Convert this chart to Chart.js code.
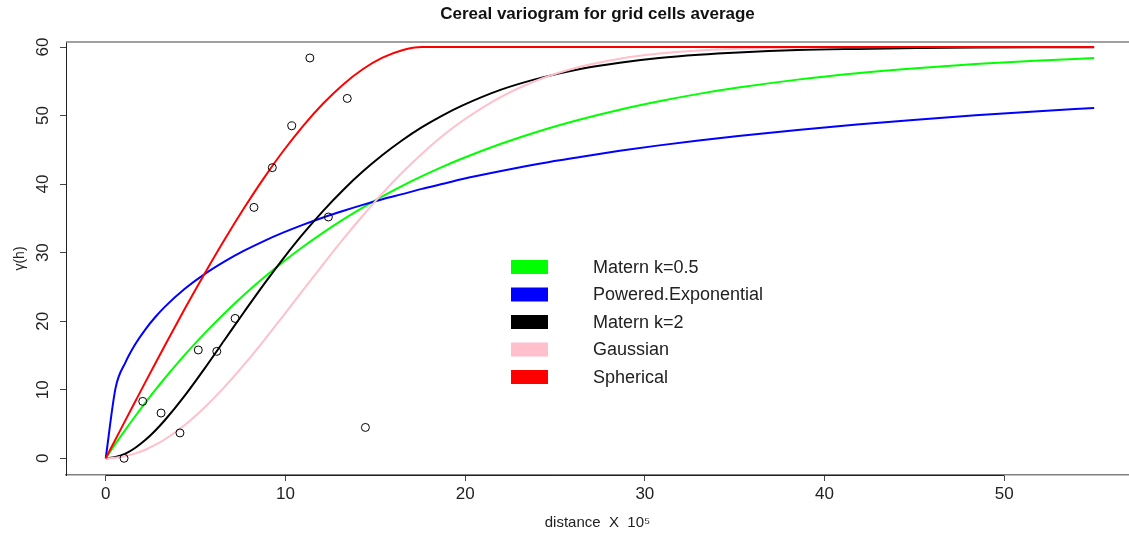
<!DOCTYPE html>
<html>
<head>
<meta charset="utf-8">
<title>Cereal variogram</title>
<script src="https://cdn.jsdelivr.net/npm/chart.js@4.4.1/dist/chart.umd.min.js"></script>
<style>
    html, body { margin: 0; padding: 0; background: #fff; }
    #chart { display: block; }
</style>
</head>
<body>
<canvas id="chart" width="1129" height="537"></canvas>
<script>
// Distances (x 10^5) where the fitted models were drawn
const distance = [0, 0.55, 1.1, 1.65, 2.2, 2.75, 3.3, 4.4, 5.5, 6.6, 7.7, 8.8, 9.9, 11, 12.1, 13.2, 14.3, 15.4, 16.5, 17.6,
    18.7, 19.8, 22, 24.2, 26.4, 28.6, 30.8, 33, 35.2, 38.5, 41.8, 45.1, 48.4, 51.7, 55];

// Fitted variogram models
const maternHalf = [0, 2.13, 4.19, 6.17, 8.08, 9.93, 11.71, 15.08, 18.22, 21.13, 23.85, 26.37, 28.72, 30.9, 32.93, 34.82, 36.58, 38.22, 39.74, 41.15,
    42.47, 43.69, 45.89, 47.79, 49.43, 50.86, 52.09, 53.16, 54.08, 55.24, 56.17, 56.91, 57.51, 58.0, 58.39];
const poweredExp = [0, 10.27, 13.99, 16.66, 18.78, 20.57, 22.12, 24.72, 26.87, 28.69, 30.28, 31.69, 32.95, 34.09, 35.13, 36.08, 36.97, 37.79, 38.54, 39.3,
    40.0, 40.7, 41.9, 43.0, 43.95, 44.85, 45.65, 46.35, 47.0, 47.9, 48.7, 49.4, 50.05, 50.6, 51.1];
const maternTwo = [0, 0.2, 0.68, 1.54, 2.66, 4.02, 5.58, 9.14, 13.09, 17.22, 21.34, 25.38, 29.21, 32.8, 36.1, 39.11, 41.82, 44.24, 46.4, 48.3,
    49.96, 51.41, 53.78, 55.5, 56.8, 57.71, 58.39, 58.86, 59.2, 59.55, 59.72, 59.84, 59.91, 59.95, 59.97];
const gaussian = [0, 0.08, 0.32, 0.71, 1.25, 1.94, 2.78, 4.85, 7.41, 10.37, 13.66, 17.18, 20.86, 24.59, 28.3, 31.92, 35.38, 38.65, 41.68, 44.44,
    46.93, 49.13, 52.72, 55.33, 57.12, 58.3, 59.04, 59.48, 59.73, 59.91, 59.97, 59.99, 60, 60, 60];
const spherical = [0, 2.78, 5.56, 8.32, 11.07, 13.79, 16.49, 21.8, 26.92, 31.84, 36.5, 40.87, 44.9, 48.54, 51.76, 54.51, 56.75, 58.44, 59.53, 59.99,
    60, 60, 60, 60, 60, 60, 60, 60, 60, 60, 60, 60, 60, 60, 60];

// Empirical variogram
const sampleDistance = [1.02, 2.06, 3.08, 4.13, 5.15, 6.18, 7.2, 8.25, 9.27, 10.35, 11.36, 12.39, 13.44, 14.45];
const sampleGamma = [0, 8.3, 6.6, 3.7, 15.8, 15.6, 20.4, 36.6, 42.4, 48.5, 58.4, 35.2, 52.5, 4.5];

const modelLabels = ['Matern k=0.5', 'Powered.Exponential', 'Matern k=2', 'Gaussian', 'Spherical'];
const modelSeries = [maternHalf, poweredExp, maternTwo, gaussian, spherical];
const modelColors = ['#00ff00', '#0000ff', '#000000', '#ffc0cb', '#ff0000'];
const modelOrder = [5, 4, 3, 2, 1];

const xTicks = [0, 10, 20, 30, 40, 50];
const yTicks = [0, 10, 20, 30, 40, 50, 60];

const FONT = '"Liberation Sans", Arial, Helvetica, sans-serif';

// R style extras: top edge of the box, rotated y labels, legend inside the plot
const boxAndLegend = {
    id: 'boxAndLegend',
    afterDraw(chart) {
        const ctx = chart.ctx;
        const area = chart.chartArea;
        const xs = chart.scales.x;
        const ys = chart.scales.y;
        ctx.save();

        ctx.strokeStyle = '#808080';
        ctx.lineWidth = 1.5;
        ctx.beginPath();
        ctx.moveTo(area.left, area.top);
        ctx.lineTo(chart.width, area.top);
        ctx.stroke();

        // darker axis line between first and last tick
        ctx.strokeStyle = '#222';
        ctx.lineWidth = 1;
        ctx.beginPath();
        ctx.moveTo(xs.getPixelForValue(xTicks[0]), area.bottom + 0.5);
        ctx.lineTo(xs.getPixelForValue(xTicks[xTicks.length - 1]), area.bottom + 0.5);
        ctx.stroke();

        ctx.fillStyle = '#222';
        ctx.font = '17px ' + FONT;
        ctx.textAlign = 'center';
        ctx.textBaseline = 'middle';
        yTicks.forEach(v => {
            ctx.save();
            ctx.translate(43, ys.getPixelForValue(v));
            ctx.rotate(-Math.PI / 2);
            ctx.fillText(String(v), 0, 0);
            ctx.restore();
        });

        ctx.font = '18px ' + FONT;
        ctx.textAlign = 'left';
        modelLabels.forEach((label, i) => {
            const cy = 267 + i * 27.5;
            ctx.fillStyle = modelColors[i];
            ctx.fillRect(511, cy - 7, 37, 14);
            ctx.fillStyle = '#222';
            ctx.fillText(label, 593, cy + 1);
        });

        ctx.restore();
    }
};

const datasets = modelSeries.map((series, i) => ({
    label: modelLabels[i],
    data: distance.map((d, j) => ({ x: d, y: series[j] })),
    showLine: true,
    borderColor: modelColors[i],
    backgroundColor: modelColors[i],
    borderWidth: 2,
    pointRadius: 0,
    cubicInterpolationMode: 'monotone',
    order: modelOrder[i]
}));

datasets.push({
    label: 'empirical',
    data: sampleDistance.map((d, j) => ({ x: d, y: sampleGamma[j] })),
    showLine: false,
    pointRadius: 4,
    pointBorderWidth: 1,
    pointBorderColor: '#000',
    pointBackgroundColor: 'rgba(0,0,0,0)',
    order: 0
});

new Chart(document.getElementById('chart'), {
    type: 'scatter',
    data: { datasets: datasets },
    options: {
        responsive: false,
        animation: false,
        devicePixelRatio: 1,
        layout: { padding: 0, autoPadding: false },
        plugins: {
            legend: { display: false },
            tooltip: { enabled: false },
            title: {
                display: true,
                fullSize: false,
                text: 'Cereal variogram for grid cells average',
                color: '#111',
                font: { family: FONT, size: 17, weight: 'bold' },
                padding: { top: 4, bottom: 17.6 }
            }
        },
        scales: {
            x: {
                type: 'linear',
                min: -2.21,
                max: 56.94,
                afterBuildTicks: s => { s.ticks = xTicks.map(v => ({ value: v })); },
                afterFit: s => { s.height = 62; s.paddingLeft = 0; s.paddingRight = 0; },
                border: { color: '#808080', width: 1.5 },
                grid: { drawOnChartArea: false, drawTicks: true, tickLength: 6, color: '#444' },
                ticks: { color: '#222', font: { family: FONT, size: 17 }, padding: 3, maxRotation: 0 },
                title: {
                    display: true,
                    text: 'distance  X  10⁵',
                    color: '#222',
                    font: { family: FONT, size: 15 },
                    padding: { top: 0, bottom: 5 }
                }
            },
            y: {
                type: 'linear',
                min: -2.44,
                max: 60.73,
                afterBuildTicks: s => { s.ticks = yTicks.map(v => ({ value: v })); },
                afterFit: s => { s.width = 66; s.paddingTop = 0; s.paddingBottom = 0; },
                border: { color: '#222', width: 1 },
                grid: { drawOnChartArea: false, drawTicks: true, tickLength: 6, color: '#444' },
                ticks: { display: false },
                title: {
                    display: true,
                    text: 'γ(h)',
                    color: '#222',
                    font: { family: FONT, size: 14 },
                    padding: { top: 12, bottom: 0 }
                }
            }
        }
    },
    plugins: [boxAndLegend]
});
</script>
</body>
</html>
